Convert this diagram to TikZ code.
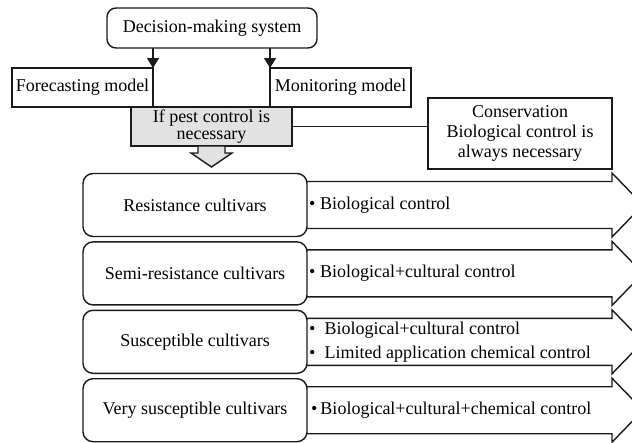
\documentclass[tikz,border=0pt]{standalone}
\usepackage{fontspec}
\setmainfont{Liberation Serif}
\usepackage{tikz}
\usepackage{xcolor}
\usetikzlibrary{
  arrows.meta, calc, positioning
}
\definecolor{linedark}{HTML}{1A1A1A}
\definecolor{pestgray}{HTML}{E2E2E2}
\tikzset{
  % Top system box
  sysbox/.style={
    draw=linedark, fill=white, rounded corners=9pt,
    minimum height=40pt, minimum width=210pt,
    inner sep=2pt, outer sep=0pt, line width=1.4pt,
  },
  % Model boxes and the conservation note
  modelbox/.style={
    draw=linedark, fill=white,
    minimum height=39pt, minimum width=141pt,
    inner sep=2pt, outer sep=0pt, line width=1.4pt,
  },
  notebox/.style={
    draw=linedark, fill=white, align=center,
    minimum height=71pt, minimum width=184pt,
    font=\fontsize{18}{20}\selectfont,
    inner sep=2pt, outer sep=0pt, line width=1.4pt,
  },
  % Decision box - gray fill
  pestbox/.style={
    draw=linedark, fill=pestgray, align=center,
    minimum height=39pt, minimum width=161pt,
    font=\fontsize{18}{17}\selectfont,
    inner sep=1pt, outer sep=0pt, line width=1.4pt,
  },
  % Cultivar rows
  cultbox/.style={
    draw=linedark, fill=white, rounded corners=10pt,
    minimum height=63pt, minimum width=224pt,
    inner sep=2pt, outer sep=0pt, line width=1.4pt,
  },
  ctltext/.style={anchor=west, align=left, inner sep=0pt},
  % Arrows
  arr/.style={-{Triangle[length=10pt, width=12pt]}, line width=1.4pt, linedark},
  plainline/.style={line width=1.4pt, linedark},
  downarr/.style={line width=1.4pt, draw=linedark, fill=pestgray},
  rowarr/.style={line width=1.4pt, draw=linedark},
}

\begin{document}
\begin{tikzpicture}[x=1pt, y=-1pt, node distance=5.4pt,
    font=\fontsize{18}{21}\selectfont, text=black]
    \path[use as bounding box, clip] (0,0) rectangle (632,442);

    \node[sysbox] (dms) at (212,28) {Decision-making system};
    \node[modelbox] (fore) at (82.5,87.5) {Forecasting model};
    \node[modelbox] (mon) at (340.5,87.5) {Monitoring model};
    \node[pestbox] (pest) at (211.5,126.5)
      {If pest control is\\necessary};
    \node[notebox] (cons) at (520,133.5)
      {Conservation\\Biological control is\\always necessary};

    \draw[arr] (dms.south -| fore.north east) -- (fore.north east);
    \draw[arr] (dms.south -| mon.north west) -- (mon.north west);
    \draw[plainline] (pest.east) -- (pest.east -| cons.west);
    \draw[downarr] ($(pest.south)+(-13.5,0)$) -- ++(0,7) -- ++(-7,0)
      -- ($(pest.south)+(0,21)$) -- ($(pest.south)+(20.5,7)$)
      -- ++(-7,0) -- ($(pest.south)+(13.5,0)$) -- cycle;

    \node[cultbox] (cult1) at (195,205) {Resistance cultivars};
    \node[cultbox, below=of cult1] (cult2) {Semi-resistance cultivars};
    \node[cultbox, below=of cult2] (cult3) {Susceptible cultivars};
    \node[cultbox, below=of cult3] (cult4) {Very susceptible cultivars};

    % block arrows, cut off at the right edge
    \foreach \i in {1,...,4}{
      \draw[rowarr] ($(cult\i.east)+(0,-23.5)$) -- ++(305,0) -- ++(0,-8.5)
        -- ($(cult\i.east)+(336,0)$) -- ($(cult\i.east)+(305,32)$)
        -- ++(0,-8.5) -- ++(-305,0);
    }

    \node[ctltext] (ctl1) at ($(cult1.east)+(2,0)$)
      {\textbullet~Biological control};
    \node[ctltext] (ctl2) at ($(cult2.east)+(2,0)$)
      {\textbullet~Biological+cultural control};
    \node[ctltext, font=\fontsize{18}{24}\selectfont] (ctl3)
      at ($(cult3.east)+(2,0)$)
      {\textbullet\hspace{9pt}Biological+cultural control\\
       \textbullet\hspace{9pt}Limited application chemical control};
    \node[ctltext] (ctl4) at ($(cult4.east)+(4,0)$)
      {\textbullet\,Biological+cultural+chemical control};
  \end{tikzpicture}
\end{document}
